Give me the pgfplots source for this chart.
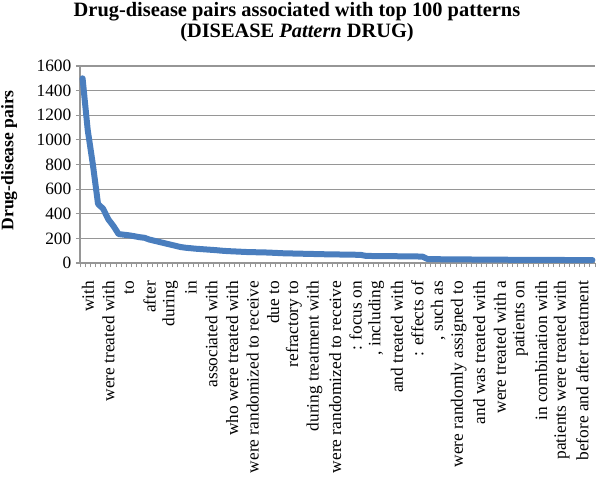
\documentclass[border=0pt]{standalone}
\usepackage{fontspec}
\setmainfont{Liberation Serif}
\usepackage{pgfplots}
\pgfplotsset{compat=1.18}
\definecolor{xlblue}{RGB}{74,126,190}
\definecolor{gridgray}{RGB}{150,150,150}

\begin{document}
\begin{tikzpicture}
\begin{axis}[
  scale only axis,
  width=386.25pt, height=147.75pt,
  xmin=0.5, xmax=100.5,
  ymin=0, ymax=1600,
  ytick={0,200,...,1600},
  axis x line*=bottom, axis y line*=left,
  axis line style={gridgray, line width=0.8pt, -},
  ymajorgrids, grid style={gridgray, line width=0.8pt},
  xtick={1,5,...,97},
  xticklabels={with, were treated with, to, after, during, in, associated with,
    who were treated with, were randomized to receive, due to, refractory to,
    during treatment with, were randomized to receive, : focus on, {, including},
    and treated with, : effects of, {, such as}, were randomly assigned to,
    and was treated with, were treated with a, patients on, in combination with,
    patients were treated with, before and after treatment},
  x tick label style={xshift=4pt, rotate=90, anchor=east, font=\fontsize{13}{13}\selectfont},
  xticklabel shift=7pt,
  y tick label style={font=\fontsize{13}{13}\selectfont},
  major x tick style={draw=none},
  minor xtick={0.5,1.5,...,100.5},
  minor x tick style={gridgray, line width=0.6pt},
  major y tick style={gridgray, line width=0.8pt},
  tick align=outside,
  major tick length=3pt, minor tick length=3pt,
  /pgf/number format/assume math mode=true,
  /pgf/number format/set thousands separator={},
  clip=false,
]
\addplot[xlblue, line width=4.5pt, line join=round, line cap=round, mark=none] table {
x y
1 1500
2 1080
3 800
4 480
5 440
6 355
7 300
8 235
9 230
10 225
11 218
12 210
13 205
14 190
15 180
16 170
17 160
18 150
19 140
20 130
21 124
22 120
23 116
24 113
25 110
26 107
27 104
28 100
29 97
30 95
31 93
32 91
33 89
34 88
35 87
36 86
37 85
38 83
39 81
40 79
41 78
42 77
43 76
44 75
45 74
46 73
47 72
48 71
49 70
50 70
51 69
52 68
53 68
54 67
55 66
56 58
57 57
58 56
59 56
60 55
61 55
62 55
63 54
64 54
65 53
66 53
67 52
68 32
69 31
70 31
71 30
72 30
73 30
74 29
75 29
76 29
77 28
78 28
79 28
80 27
81 27
82 27
83 27
84 26
85 26
86 26
87 26
88 26
89 25
90 25
91 25
92 25
93 25
94 25
95 24
96 24
97 24
98 24
99 24
100 24
};
\coordinate (O) at (rel axis cs:0,0);
\end{axis}
\path (O) ++(162.75pt,180.4pt) node[font=\bfseries\fontsize{15.3}{15.75}\selectfont, align=center]
  {Drug-disease pairs associated with top 100 patterns\\(DISEASE \textit{Pattern} DRUG)};
\path (O) ++(-53pt,77pt) node[rotate=90, font=\bfseries\fontsize{13.2}{13.2}\selectfont]
  {Drug-disease pairs};
\pgfresetboundingbox
\path[use as bounding box] (O) ++(-60pt,-162pt) rectangle ++(450pt,359.25pt);
\end{tikzpicture}
\end{document}
